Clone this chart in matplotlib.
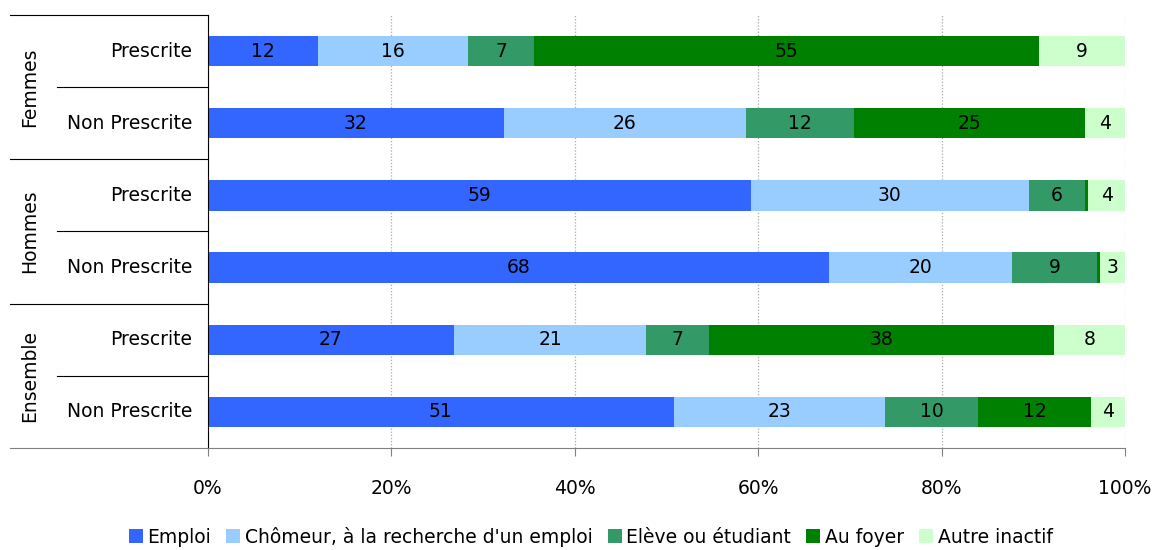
import matplotlib.pyplot as plt
import matplotlib.transforms as mtransforms
import numpy as np

plt.rcParams["font.family"] = "DejaVu Sans"

groups = ["Femmes", "Hommes", "Ensemble"]
rows = ["Prescrite", "Non Prescrite"]
series = ["Emploi", "Chômeur, à la recherche d'un emploi", "Elève ou étudiant",
          "Au foyer", "Autre inactif"]
colors = ["#3366FF", "#99CCFF", "#339966", "#008000", "#CCFFCC"]

# rows top to bottom: Femmes P, Femmes NP, Hommes P, Hommes NP, Ensemble P, Ensemble NP
emploi = [12.0, 32.2, 59.2, 67.7, 26.8, 50.8]
chomeur = [16.4, 26.3, 30.3, 20.0, 21.0, 23.0]
eleve = [7.1, 11.8, 6.1, 9.3, 6.8, 10.2]
foyer = [55.1, 25.1, 0.4, 0.3, 37.7, 12.3]
autre = [9.4, 4.4, 4.0, 2.7, 7.7, 3.7]

data = np.array([emploi, chomeur, eleve, foyer, autre])
data = data / data.sum(axis=0) * 100

fs = 13.5

fig = plt.figure(figsize=(11.58, 5.5), dpi=100)
ax = fig.add_axes([0.1796, 0.1855, 0.9715 - 0.1796, 0.9727 - 0.1855])

y = np.arange(6)
left = np.zeros(6)
for i in range(5):
    bars = ax.barh(y, data[i], left=left, height=0.42, color=colors[i],
                   label=series[i], zorder=2)
    for j, b in enumerate(bars):
        v = data[i][j]
        if v >= 1:
            ax.text(left[j] + v / 2, y[j], "%.0f" % v, ha="center", va="center",
                    fontsize=fs, zorder=3)
    left += data[i]

ax.set_xlim(0, 100)
ax.set_ylim(5.5, -0.5)
ax.set_xticks([0, 20, 40, 60, 80, 100])
ax.set_xticklabels(["0%", "20%", "40%", "60%", "80%", "100%"], fontsize=fs)
ax.xaxis.grid(True, linestyle=(0, (1, 1.5)), color="#AAAAAA", linewidth=0.9, zorder=0)
ax.tick_params(axis="x", length=6, color="#808080", pad=16)
ax.set_yticks([])

for s in ["top", "right"]:
    ax.spines[s].set_visible(False)
ax.spines["bottom"].set_color("#808080")
ax.spines["left"].set_color("black")

# category labels and group separators
trans = mtransforms.blended_transform_factory(ax.transAxes, ax.transData)
for j in range(6):
    ax.text(-0.0174, j, rows[j % 2], transform=trans, ha="right", va="center",
            fontsize=fs)
for g in range(3):
    ax.text(-0.194, 2 * g + 0.5, groups[g], transform=trans, ha="center",
            va="center", rotation=90, fontsize=fs)
    ax.plot([-0.1647, 0], [2 * g + 0.5] * 2, transform=trans, color="black",
            linewidth=0.8, clip_on=False)
for yy in [-0.5, 1.5, 3.5]:
    ax.plot([-0.216, 0], [yy] * 2, transform=trans, color="black",
            linewidth=0.8, clip_on=False)
ax.plot([-0.216, 0], [5.5] * 2, transform=trans, color="#808080",
        linewidth=0.8, clip_on=False)

fig.legend(loc="lower center", ncol=5, frameon=False, fontsize=fs,
           handlelength=0.75, handleheight=0.75, handletextpad=0.25,
           columnspacing=0.8, bbox_to_anchor=(0.51, -0.025))

fig.savefig("out.png", dpi=100)
